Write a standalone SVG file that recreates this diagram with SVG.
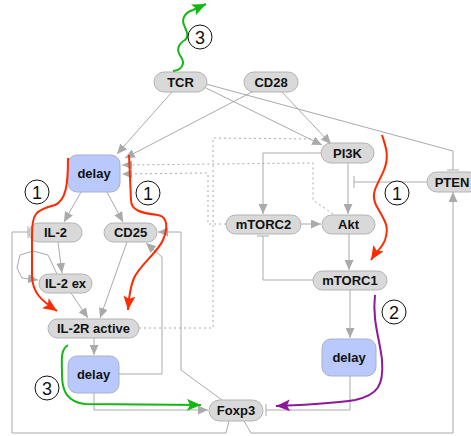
<svg xmlns="http://www.w3.org/2000/svg" width="471" height="436" viewBox="0 0 471 436">
<style>
.n rect{fill:#d9d9d9;stroke:#b3b3b3;stroke-width:1}
.d rect{fill:#b9c9fb;stroke:#a8b0c8;stroke-width:1}
text{font-family:"Liberation Sans",Arial,sans-serif;font-weight:bold;font-size:13px;fill:#111;text-anchor:middle}
.e path{fill:none;stroke:#aaaaaa;stroke-width:1}
.e .dot{stroke-dasharray:2,3}
.ann path{fill:none;stroke-width:2}
.lab circle{fill:#fff;stroke:#111;stroke-width:1}
.lab text{font-weight:normal;font-size:18px}
</style>
<defs>
<marker id="ar" markerUnits="userSpaceOnUse" markerWidth="11" markerHeight="9" refX="10" refY="4.5" orient="auto"><path d="M0,0 L10,4.5 L0,9 z" fill="#aaaaaa"/></marker>
<marker id="tee" markerUnits="userSpaceOnUse" markerWidth="2" markerHeight="12" refX="1" refY="6" orient="auto"><path d="M1,0 V12" stroke="#aaaaaa" stroke-width="1"/></marker>
<marker id="ared" markerUnits="userSpaceOnUse" markerWidth="15" markerHeight="12" refX="14" refY="6" orient="auto"><path d="M0,0 L14,6 L0,12 L3,6 z" fill="#ff2a00"/></marker>
<marker id="agreen" markerUnits="userSpaceOnUse" markerWidth="15" markerHeight="12" refX="14" refY="6" orient="auto"><path d="M0,0 L14,6 L0,12 L3,6 z" fill="#14b814"/></marker>
<marker id="apurple" markerUnits="userSpaceOnUse" markerWidth="15" markerHeight="12" refX="14" refY="6" orient="auto"><path d="M0,0 L14,6 L0,12 L3,6 z" fill="#8e1a98"/></marker>
</defs>

<g id="connectors" class="e">
<path d="M172,92 L117,154" marker-end="url(#ar)"/>
<path d="M254,91 L125,158" marker-end="url(#ar)"/>
<path d="M204,87 L322,145" marker-end="url(#ar)"/>
<path d="M281,91 L331,144" marker-end="url(#ar)"/>
<path d="M206,84 L453,151 L453,170" marker-end="url(#tee)"/>
<path d="M427,182 L354,182" marker-end="url(#tee)"/>
<path d="M321,153 L263,153 L263,214" marker-end="url(#ar)"/>
<path d="M348,163 L348,214" marker-end="url(#ar)"/>
<path d="M301,224 L321,224" marker-end="url(#ar)"/>
<path d="M349,234 L349,270" marker-end="url(#ar)"/>
<path d="M313,280 L263,280 L263,236" marker-end="url(#tee)"/>
<path d="M350,290 L350,338" marker-end="url(#ar)"/>
<path d="M350,376 L350,410 L266,410" marker-end="url(#tee)"/>
<path d="M244,421 L251,433 L453,433 L453,192" marker-end="url(#ar)"/>
<path d="M229,421 L226,433 L12,433 L12,232 L28,232" marker-end="url(#tee)"/>
<path d="M222,400 L181,370 L181,232 L158,232" marker-end="url(#ar)"/>
<path d="M119,374 L162,374 L162,257 L146,243" marker-end="url(#ar)"/>
<path d="M94,393 L94,410 L208,410" marker-end="url(#ar)"/>
<path d="M94,338 L94,355" marker-end="url(#ar)"/>
<path d="M81,192 L64,222" marker-end="url(#ar)"/>
<path d="M107,192 L123,222" marker-end="url(#ar)"/>
<path d="M58,242 L62,273" marker-end="url(#ar)"/>
<path d="M57,274 L48,255 L33,251 L20,255 L17,268 L22,278 L38,280" marker-end="url(#ar)"/>
<path d="M71,293 L88,318" marker-end="url(#ar)"/>
<path d="M127,242 L100,318" marker-end="url(#ar)"/>
<path class="dot" d="M139,328 L213,328 L213,138 L319,139"/>
<path class="dot" d="M333,214 L313,200 L313,163 L122,165" marker-end="url(#ar)"/>
<path class="dot" d="M226,224 L208,224 L208,173 L122,174" marker-end="url(#ar)"/>
</g>

<g id="TCR" class="n"><rect x="154" y="72" width="53" height="20" rx="10"/><text x="180.5" y="86.5">TCR</text></g>
<g id="CD28" class="n"><rect x="244" y="72" width="54" height="20" rx="10"/><text x="271" y="86.5">CD28</text></g>
<g id="PI3K" class="n"><rect x="321" y="143" width="53" height="20" rx="10"/><text x="347.5" y="157.5">PI3K</text></g>
<g id="PTEN" class="n"><rect x="427" y="172" width="52" height="20" rx="10"/><text x="452" y="186.5">PTEN</text></g>
<g id="delay1" class="d"><rect x="68" y="155" width="52" height="37" rx="9"/><text x="94" y="178">delay</text></g>
<g id="IL-2" class="n"><rect x="29" y="223" width="53" height="19" rx="9.5"/><text x="55.5" y="237">IL-2</text></g>
<g id="CD25" class="n"><rect x="104" y="223" width="53" height="19" rx="9.5"/><text x="130.5" y="237">CD25</text></g>
<g id="IL-2ex" class="n"><rect x="39" y="274" width="53" height="19" rx="9.5"/><text x="65.5" y="288">IL-2 ex</text></g>
<g id="IL-2R_active" class="n"><rect x="48" y="319" width="91" height="19" rx="9.5"/><text x="93.5" y="333">IL-2R active</text></g>
<g id="delay2" class="d"><rect x="68" y="356" width="51" height="37" rx="9"/><text x="93.5" y="379">delay</text></g>
<g id="mTORC2" class="n"><rect x="226" y="215" width="75" height="19" rx="9.5"/><text x="263.5" y="229">mTORC2</text></g>
<g id="Akt" class="n"><rect x="322" y="215" width="53" height="19" rx="9.5"/><text x="348.5" y="229">Akt</text></g>
<g id="mTORC1" class="n"><rect x="313" y="271" width="74" height="19" rx="9.5"/><text x="350" y="285">mTORC1</text></g>
<g id="delay3" class="d"><rect x="322" y="339" width="54" height="37" rx="9"/><text x="349" y="362">delay</text></g>
<g id="Foxp3" class="n"><rect x="209" y="400" width="54" height="21" rx="10.5"/><text x="236" y="415">Foxp3</text></g>

<g id="annotations" class="ann">
<path stroke="#ff2a00" d="M68,158 C68,185 66,200 55,205 C35,210 32,214 32,235 L32,275 C32,293 42,301 57,311" marker-end="url(#ared)"/>
<path stroke="#ff2a00" d="M129,155 L131,200 C131,210 140,213 158,215 C168,217 168,228 163,240 C158,252 140,265 134,278 C129,290 129,300 128,310" marker-end="url(#ared)"/>
<path stroke="#ff2a00" d="M382,135 C385,145 390,155 384,170 C378,185 370,192 376,205 C384,220 390,225 385,240 C382,248 376,252 371,260" marker-end="url(#ared)"/>
<path stroke="#8e1a98" d="M375,295 C372,320 380,340 382,360 C384,385 378,395 355,400 C330,404 300,405 276,406" marker-end="url(#apurple)"/>
<path stroke="#14b814" d="M68,345 C60,350 62,360 62,375 C62,392 68,402 85,404 L201,405" marker-end="url(#agreen)"/>
<path stroke="#14b814" d="M173,71 C183,70 185,63 181,57 C176,50 178,44 185,40 C190,36 186,30 184,25 C181,18 186,12 193,10 L206,4" marker-end="url(#agreen)"/>
</g>

<g id="labels" class="lab">
<g><circle cx="37" cy="192" r="12"/><text x="37" y="198.5">1</text></g>
<g><circle cx="148" cy="193" r="12"/><text x="148" y="199.5">1</text></g>
<g><circle cx="397" cy="193" r="12"/><text x="397" y="199.5">1</text></g>
<g><circle cx="394" cy="312" r="12"/><text x="394" y="318.5">2</text></g>
<g><circle cx="200" cy="37" r="12"/><text x="200" y="43.5">3</text></g>
<g><circle cx="47" cy="388" r="12"/><text x="47" y="394.5">3</text></g>
</g>
</svg>
